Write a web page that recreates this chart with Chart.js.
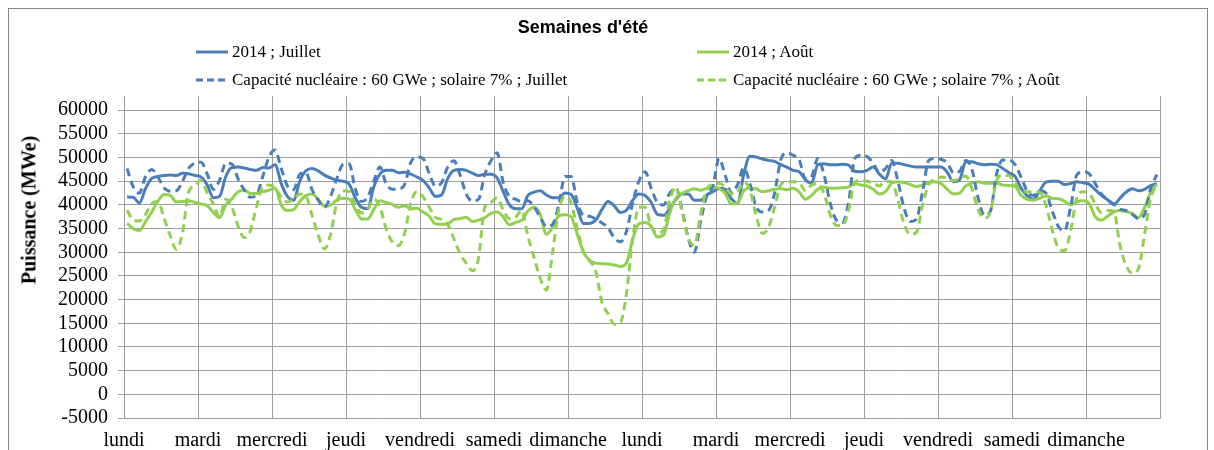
<!DOCTYPE html>
<html lang="fr">
<head>
    <meta charset="UTF-8">
    <title>Semaines d'été</title>
    <style>
        body {
            margin: 0;
            padding: 0;
            background-color: #ffffff;
        }

        #wrap {
            position: relative;
            width: 1214px;
            height: 450px;
            overflow: hidden;
        }

        .frame {
            position: absolute;
            left: 8px;
            top: 8px;
            width: 1198px;
            height: 470px;
            border: 1px solid #868686;
        }

        canvas {
            position: absolute;
            left: 0;
            top: 0;
        }

        .title {
            position: absolute;
            left: 583px;
            top: 27px;
            transform: translate(-50%, -50%);
            font-family: "Liberation Sans", Arial, sans-serif;
            font-weight: bold;
            font-size: 18px;
            color: #000000;
            white-space: nowrap;
        }

        .y-title {
            position: absolute;
            left: 29px;
            top: 210px;
            transform: translate(-50%, -50%) rotate(-90deg);
            font-family: "Liberation Serif", "Times New Roman", serif;
            font-weight: bold;
            font-size: 20px;
            color: #000000;
            white-space: nowrap;
        }

        .legend-item {
            position: absolute;
            display: flex;
            align-items: center;
            transform: translateY(-50%);
            font-family: "Liberation Serif", "Times New Roman", serif;
            font-size: 17px;
            color: #000000;
            white-space: nowrap;
        }

        .legend-item svg {
            margin-right: 4px;
        }
    </style>
</head>
<body>
    <div id="wrap">
        <div class="frame"></div>
        <canvas id="chart" width="1214" height="450"></canvas>
        <div class="title">Semaines d'été</div>
        <div class="y-title">Puissance (MWe)</div>
        <div id="legend"></div>
    </div>

    <script src="https://cdn.jsdelivr.net/npm/chart.js"></script>
    <script>
        // Jours affichés sous l'axe (une étiquette toutes les 24 h)
        const dayLabels = ['lundi', 'mardi', 'mercredi', 'jeudi', 'vendredi', 'samedi', 'dimanche',
                           'lundi', 'mardi', 'mercredi', 'jeudi', 'vendredi', 'samedi', 'dimanche'];

        // Graduations de l'axe des puissances
        const yTicks = [-5000, 0, 5000, 10000, 15000, 20000, 25000, 30000,
                        35000, 40000, 45000, 50000, 55000, 60000];

        // Puissance en MWe, un relevé toutes les 2 heures (12 par jour)
        const julyActual = [
            41700, 41600, 40400, 43500, 45600, 46000, 46200, 46300, 46200, 46700, 46600, 46200,
            45900, 44200, 41500, 41800, 46000, 47900, 48000, 47800, 47500, 47300, 47900, 47800,
            48500, 44500, 41800, 41000, 45000, 47200, 47700, 47200, 46300, 45700, 45200, 45000,
            44400, 41500, 39500, 39200, 43800, 46500, 47300, 47300, 46800, 46900, 46500, 45900,
            45200, 43600, 41800, 42100, 45600, 47300, 47500, 47300, 46700, 46200, 46500, 46500,
            45700, 42800, 40000, 39200, 39200, 42000, 42700, 43000, 42100, 41500, 41500, 42500,
            42200, 39300, 36100, 36100, 36800, 39000, 40700, 39800, 38400, 38900, 41000, 42300,
            42000, 40500, 38000, 37800, 39200, 41200, 42300, 42300, 41000, 41000, 42100, 42800,
            43500, 43300, 41300, 40300, 46500, 50300, 50100, 49700, 49400, 49200, 48500, 48000,
            47300, 47000, 45300, 44600, 48500, 48700, 48500, 48500, 48600, 48400, 47100, 47000,
            47300, 48000, 46500, 45500, 48800, 48800, 48500, 48200, 48000, 48000, 48000, 48000,
            48000, 46900, 44900, 45300, 49100, 49100, 48700, 48500, 48600, 48500, 47700, 46800,
            46000, 43500, 41900, 41200, 43000, 44800, 45000, 45000, 44300, 44500, 44900, 44700,
            44400, 43200, 42000, 41100, 40100, 41400, 42700, 43400, 43000, 43300, 44100, 44500
        ];

        const augustActual = [
            36100, 35000, 34600, 36500, 38500, 40800, 42200, 42000, 40600, 40700, 40900, 40500,
            40200, 39800, 38400, 37300, 40000, 41300, 42800, 43100, 42400, 42400, 42800, 43100,
            43500, 40000, 38800, 39000, 40700, 42000, 42300, 41200, 39700, 40000, 41000, 41400,
            41200, 39100, 37000, 37000, 39000, 40900, 40500, 40100, 39500, 39800, 39200, 39300,
            38500, 37600, 36000, 35900, 36000, 36900, 37100, 37400, 36500, 36800, 37300, 38200,
            38500, 37500, 35800, 36300, 36800, 38700, 39500, 38000, 33800, 35300, 37700, 37900,
            37500, 33800, 30100, 28300, 27700, 27600, 27500, 27300, 27000, 27800, 32800, 36000,
            36300, 35500, 33200, 33600, 38300, 41400, 42400, 43000, 43400, 43100, 43500, 43800,
            43500, 42400, 40200, 40400, 43000, 43500, 43400, 42800, 43000, 43300, 43400, 43200,
            43500, 42700, 41200, 42000, 43300, 43800, 43500, 43500, 43600, 43800, 44500, 44200,
            44000, 43300, 42300, 42800, 44600, 44900, 44700, 44300, 43900, 44200, 44700, 44900,
            44500, 43300, 42300, 42500, 44000, 44600, 44900, 44600, 44600, 44600, 44200, 44100,
            43900, 42000, 41200, 41000, 41400, 41900, 41400, 41300, 40800, 40000, 40700, 40900,
            40300, 37500, 36800, 37600, 38500, 38800, 38600, 38200, 37300, 39500, 42700, 44300
        ];

        const julyNuclear = [
            47700, 43800, 42500, 46000, 47500, 45900, 43600, 42900, 43000, 45000, 47800, 48800,
            49000, 46500, 43300, 45200, 48800, 48600, 45500, 43200, 41600, 42100, 46000, 50100,
            51600, 47700, 44000, 43200, 46500, 46800, 43200, 41000, 39500, 41800, 45500, 48500,
            48700, 43400, 40700, 41600, 45000, 48000, 44500, 43300, 43400, 44300, 49000, 50100,
            49800, 46600, 44000, 44700, 48000, 49300, 46300, 42300, 40800, 41200, 46400, 49300,
            51000, 44700, 41800, 41200, 40700, 40900, 39600, 37400, 35500, 35900, 40000, 46000,
            46000, 40500, 37800, 37600, 37000, 36200, 35200, 33000, 32200, 34500, 40500, 45000,
            47000, 43500, 40500, 40000, 42500, 43500, 39000, 33000, 30000, 36500, 42000, 44000,
            49800, 46200, 42500, 44300, 47800, 44500, 39600, 38500, 38800, 42500, 49500, 51000,
            50500, 49500, 45500, 46000, 49800, 46500, 40500, 36800, 36300, 40500, 49800, 50500,
            50200, 48800, 46800, 47700, 49400, 45000, 39300, 36500, 37000, 42800, 49400, 49800,
            49600, 48900, 46800, 47100, 49400, 47500, 41500, 37800, 38700, 46500, 49500, 49500,
            48500, 45800, 42800, 42000, 43000, 42500, 38800, 35500, 34500, 39500, 46300, 47000,
            46600, 44500, 42300, 41100, 40200, 39100, 38800, 38000, 37100, 38000, 43500, 46400
        ];

        const augustNuclear = [
            38900, 36800, 36600, 38000, 40300, 40700, 37200, 33500, 30600, 34200, 42800, 44000,
            45200, 42500, 40200, 37500, 41200, 39500, 35500, 33100, 34600, 39600, 43800, 44200,
            43600, 41600, 40600, 41200, 42300, 41800, 37800, 33600, 30700, 33800, 40500, 43000,
            42800, 40000, 38300, 39000, 41200, 39600, 35000, 32200, 31400, 34000, 40400, 42800,
            41700, 39500, 37400, 36900, 35900, 32800, 29700, 27700, 26100, 28800, 39500, 40600,
            41500, 38900, 37100, 37400, 38900, 33400, 28900, 24500, 22000, 30000, 39000, 41800,
            40500, 35000, 30200, 28200, 26000, 19500, 17000, 14800, 15200, 21500, 33000, 39500,
            39500, 35400, 34000, 34800, 41000, 43800, 38500, 33000, 31500, 38000, 43300, 44300,
            44600, 43800, 42300, 42800, 44800, 43100, 37800, 34000, 35200, 39500, 44300, 44900,
            44900, 44700, 43000, 44200, 44500, 42500, 38000, 35700, 35600, 38800, 44800, 45200,
            45000, 44600, 44000, 45000, 44900, 41000, 36000, 33800, 34200, 40000, 44300, 45500,
            45900, 45700, 45100, 45600, 46100, 43500, 39000, 37200, 38500, 45100, 46300, 46200,
            44500, 42800, 42800, 42800, 42700, 40000, 34800, 31000, 30300, 34500, 41500, 42800,
            42500, 40200, 38400, 38800, 38700, 31500, 27200, 25600, 26500, 33800, 41500, 44200
        ];

        const BLUE = '#4a7ebb';
        const GREEN = '#92d050';
        const DASH = [8, 5];
        const GRID = '#9d9d9d';

        // chaque relevé couvre 2 h : on le place au milieu de sa tranche
        function toPoints(values) {
            return values.map((v, i) => ({ x: i * 2 + 1, y: v }));
        }

        const series = [
            { label: '2014 ; Juillet', data: julyActual, color: BLUE, dashed: false, order: 4 },
            { label: '2014 ; Août', data: augustActual, color: GREEN, dashed: false, order: 3 },
            { label: 'Capacité nucléaire : 60 GWe ; solaire 7% ; Juillet', data: julyNuclear, color: BLUE, dashed: true, order: 2 },
            { label: 'Capacité nucléaire : 60 GWe ; solaire 7% ; Août', data: augustNuclear, color: GREEN, dashed: true, order: 1 }
        ];

        // Légende sur deux colonnes
        const legendPos = [
            { left: 196, top: 52 }, { left: 697, top: 52 },
            { left: 196, top: 80 }, { left: 697, top: 80 }
        ];
        const legend = document.getElementById('legend');
        series.forEach((s, i) => {
            const item = document.createElement('div');
            item.className = 'legend-item';
            item.style.left = legendPos[i].left + 'px';
            item.style.top = legendPos[i].top + 'px';
            const dash = s.dashed ? ' stroke-dasharray="7 4"' : '';
            item.innerHTML = '<svg width="32" height="4"><line x1="0" y1="2" x2="32" y2="2" stroke="' +
                s.color + '" stroke-width="3"' + dash + '/></svg><span></span>';
            item.querySelector('span').textContent = s.label;
            legend.appendChild(item);
        });

        const serif = "'Liberation Serif', 'Times New Roman', serif";

        new Chart(document.getElementById('chart'), {
            type: 'line',
            data: {
                datasets: series.map(s => ({
                    label: s.label,
                    data: toPoints(s.data),
                    borderColor: s.color,
                    backgroundColor: s.color,
                    borderWidth: 3,
                    borderDash: s.dashed ? DASH : [],
                    pointRadius: 0,
                    cubicInterpolationMode: 'monotone',
                    fill: false,
                    order: s.order
                }))
            },
            options: {
                responsive: false,
                animation: false,
                devicePixelRatio: 1,
                layout: {
                    padding: { top: 96, right: 54, bottom: 0, left: 0 }
                },
                plugins: {
                    legend: { display: false },
                    title: { display: false },
                    tooltip: { enabled: false }
                },
                scales: {
                    x: {
                        type: 'linear',
                        min: 0,
                        max: 336,
                        afterFit: (scale) => { scale.height = 32; },
                        ticks: {
                            stepSize: 24,
                            autoSkip: false,
                            maxRotation: 0,
                            padding: 11,
                            color: '#000000',
                            font: { family: serif, size: 20 },
                            callback: (value) => dayLabels[value / 24] || ''
                        },
                        grid: {
                            color: GRID,
                            lineWidth: 1,
                            drawTicks: false
                        },
                        border: { color: GRID, width: 1 }
                    },
                    y: {
                        min: -5000,
                        max: 63000,
                        afterFit: (scale) => { scale.width = 124; },
                        afterBuildTicks: (scale) => {
                            scale.ticks = yTicks.map(v => ({ value: v }));
                        },
                        ticks: {
                            autoSkip: false,
                            padding: 10,
                            color: '#000000',
                            font: { family: serif, size: 20 },
                            callback: (value) => String(value)
                        },
                        grid: {
                            color: GRID,
                            lineWidth: 1,
                            tickLength: 6
                        },
                        border: { color: GRID, width: 1 }
                    }
                }
            }
        });
    </script>
</body>
</html>
